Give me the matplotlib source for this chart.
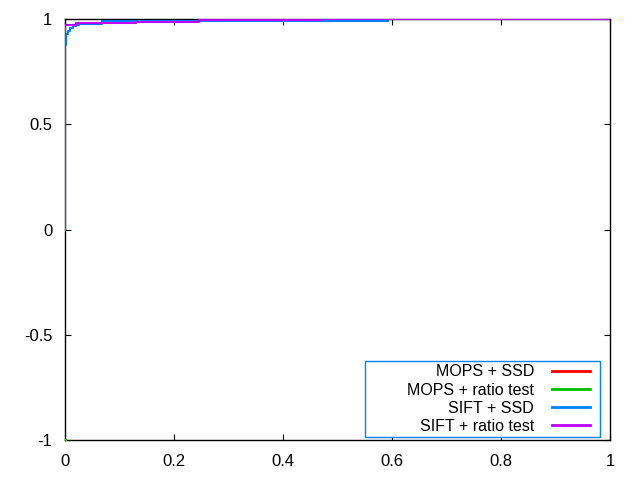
import matplotlib
matplotlib.use("Agg")
import matplotlib.pyplot as plt
from matplotlib.lines import Line2D
from matplotlib.patches import Rectangle

plt.rcParams['font.family'] = ['Liberation Sans', 'DejaVu Sans']

labels = ["MOPS + SSD", "MOPS + ratio test", "SIFT + SSD", "SIFT + ratio test"]
colors = ["#ff0000", "#00c000", "#0080ff", "#c000ff"]

# MOPS curves are degenerate (single point at (0, -1))
mops_ssd_x = [0.0, 0.0]
mops_ssd_y = [-1.0, -1.0]
mops_ratio_x = [0.0, 0.0]
mops_ratio_y = [-1.0, -1.0]

sift_ssd_x = [0.0, 0.0, 0.002, 0.002, 0.006, 0.006, 0.009, 0.009, 0.015, 0.015,
              0.02, 0.02, 0.026, 0.026, 0.067, 0.067, 0.13, 0.13, 0.47, 0.47, 0.593, 0.593, 1.0]
sift_ssd_y = [0.0, 0.876, 0.876, 0.93, 0.93, 0.943, 0.943, 0.957, 0.957, 0.967,
              0.967, 0.971, 0.971, 0.976, 0.976, 0.989, 0.989, 0.99, 0.99, 0.99, 0.99, 1.0, 1.0]

sift_ratio_x = [0.0, 0.0, 0.021, 0.021, 0.13, 0.13, 0.245, 0.245, 0.47, 0.47, 1.0]
sift_ratio_y = [0.0, 0.971, 0.971, 0.981, 0.981, 0.985, 0.985, 0.995, 0.995, 1.0, 1.0]

xticks = [0, 0.2, 0.4, 0.6, 0.8, 1]
xticklabels = ["0", "0.2", "0.4", "0.6", "0.8", "1"]
yticks = [-1, -0.5, 0, 0.5, 1]
yticklabels = ["-1", "-0.5", "0", "0.5", "1"]

fig = plt.figure(figsize=(6.4, 4.8), dpi=100)
ax = fig.add_axes([65/640, 1-440/480, 545/640, 421/480])

ax.plot(mops_ssd_x, mops_ssd_y, color=colors[0], lw=1.5, marker='s', ms=1.2, label=labels[0])
ax.plot(mops_ratio_x, mops_ratio_y, color=colors[1], lw=1.5, marker='s', ms=1.2, label=labels[1])
ax.plot(sift_ssd_x, sift_ssd_y, color=colors[2], lw=1.5, label=labels[2])
ax.plot(sift_ratio_x, sift_ratio_y, color=colors[3], lw=1.5, label=labels[3])

ax.set_xlim(0, 1)
ax.set_ylim(-1, 1)
ax.set_xticks(xticks)
ax.set_xticklabels(xticklabels)
ax.set_yticks(yticks)
ax.set_yticklabels(yticklabels)
ax.tick_params(direction='in', length=4, width=0.8, top=True, right=True,
               labelsize=12, colors='black')
ax.tick_params(axis='y', pad=9)
ax.tick_params(axis='x', pad=10)
for s in ax.spines.values():
    s.set_linewidth(1.0)
    s.set_color('black')
    s.set_zorder(1)

# legend box (fixed size, gnuplot-style)
ax.add_patch(Rectangle((300/545, 3/421), 235/545, 76/421, transform=ax.transAxes,
                       facecolor='white', edgecolor='#0080ff', lw=1.0, zorder=5))

hs = [Line2D([], [], color=c, lw=2) for c in colors]
leg = ax.legend(hs, labels, loc='lower right', bbox_to_anchor=(525/545, 6/421),
                borderaxespad=0, markerfirst=False, frameon=False,
                fontsize=11.5, handlelength=2.4, handletextpad=1.1, labelspacing=0.2,
                borderpad=0)
leg.set_zorder(6)

fig.savefig("out.png", dpi=100)
